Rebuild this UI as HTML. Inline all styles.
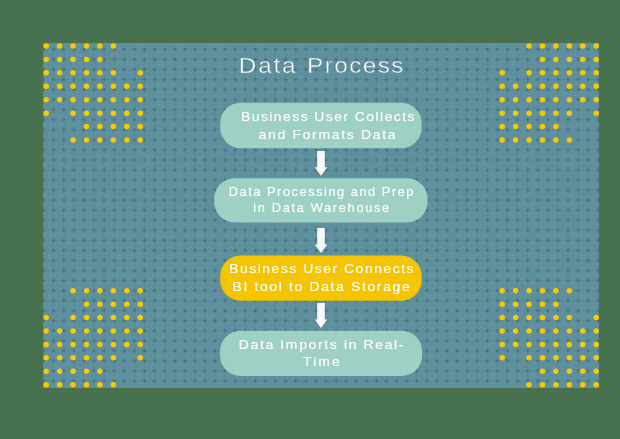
<!DOCTYPE html>
<html><head><meta charset="utf-8"><style>
html,body{margin:0;padding:0;background:#48724F;width:620px;height:439px;overflow:hidden}
svg{display:block}
text{font-family:"Liberation Sans",sans-serif;fill:#FFFFFF;stroke:#FFFFFF}
</style></head><body>
<svg width="620" height="439" viewBox="0 0 620 439">
<defs>
<pattern id="g" x="38.5575" y="44.4775" width="10.085" height="10.045" patternUnits="userSpaceOnUse">
<rect x="0" y="4.6" width="10.085" height="0.85" fill="#47717F" fill-opacity="0.16"/>
<rect x="4.62" y="0" width="0.85" height="10.045" fill="#47717F" fill-opacity="0.16"/>
<rect x="2.6" y="4.42" width="4.9" height="1.2" fill="#47717F" fill-opacity="0.32"/>
<rect x="4.44" y="2.6" width="1.2" height="4.9" fill="#47717F" fill-opacity="0.32"/>
<circle cx="5.0425" cy="5.0225" r="1.35" fill="#47717F"/>
</pattern>
<filter id="nf" filterUnits="userSpaceOnUse" x="0" y="0" width="620" height="439"><feOffset dx="0" dy="0"/></filter>
<filter id="bl" x="-5%" y="-5%" width="110%" height="110%"><feGaussianBlur stdDeviation="0.75"/></filter>
</defs>
<rect x="43" y="43" width="556" height="345" fill="#5F909E"/>
<rect x="43" y="43" width="556" height="345" fill="url(#g)" filter="url(#bl)"/>
<g fill="#F9CA00"><circle cx="46.20" cy="46.00" r="2.75"/><circle cx="59.63" cy="46.00" r="2.75"/><circle cx="73.06" cy="46.00" r="2.75"/><circle cx="86.49" cy="46.00" r="2.75"/><circle cx="99.92" cy="46.00" r="2.75"/><circle cx="113.35" cy="46.00" r="2.75"/><circle cx="46.20" cy="59.43" r="2.75"/><circle cx="59.63" cy="59.43" r="2.75"/><circle cx="73.06" cy="59.43" r="2.75"/><circle cx="86.49" cy="59.43" r="2.75"/><circle cx="99.92" cy="59.43" r="2.75"/><circle cx="46.20" cy="72.86" r="2.75"/><circle cx="59.63" cy="72.86" r="2.75"/><circle cx="73.06" cy="72.86" r="2.75"/><circle cx="86.49" cy="72.86" r="2.75"/><circle cx="99.92" cy="72.86" r="2.75"/><circle cx="113.35" cy="72.86" r="2.75"/><circle cx="140.21" cy="72.86" r="2.75"/><circle cx="46.20" cy="86.29" r="2.75"/><circle cx="59.63" cy="86.29" r="2.75"/><circle cx="73.06" cy="86.29" r="2.75"/><circle cx="86.49" cy="86.29" r="2.75"/><circle cx="99.92" cy="86.29" r="2.75"/><circle cx="113.35" cy="86.29" r="2.75"/><circle cx="126.78" cy="86.29" r="2.75"/><circle cx="140.21" cy="86.29" r="2.75"/><circle cx="46.20" cy="99.72" r="2.75"/><circle cx="59.63" cy="99.72" r="2.75"/><circle cx="73.06" cy="99.72" r="2.75"/><circle cx="86.49" cy="99.72" r="2.75"/><circle cx="99.92" cy="99.72" r="2.75"/><circle cx="113.35" cy="99.72" r="2.75"/><circle cx="126.78" cy="99.72" r="2.75"/><circle cx="140.21" cy="99.72" r="2.75"/><circle cx="46.20" cy="113.15" r="2.75"/><circle cx="73.06" cy="113.15" r="2.75"/><circle cx="86.49" cy="113.15" r="2.75"/><circle cx="99.92" cy="113.15" r="2.75"/><circle cx="113.35" cy="113.15" r="2.75"/><circle cx="126.78" cy="113.15" r="2.75"/><circle cx="140.21" cy="113.15" r="2.75"/><circle cx="86.49" cy="126.58" r="2.75"/><circle cx="99.92" cy="126.58" r="2.75"/><circle cx="113.35" cy="126.58" r="2.75"/><circle cx="126.78" cy="126.58" r="2.75"/><circle cx="140.21" cy="126.58" r="2.75"/><circle cx="73.06" cy="140.01" r="2.75"/><circle cx="86.49" cy="140.01" r="2.75"/><circle cx="99.92" cy="140.01" r="2.75"/><circle cx="113.35" cy="140.01" r="2.75"/><circle cx="126.78" cy="140.01" r="2.75"/><circle cx="140.21" cy="140.01" r="2.75"/><circle cx="529.06" cy="46.00" r="2.75"/><circle cx="542.49" cy="46.00" r="2.75"/><circle cx="555.92" cy="46.00" r="2.75"/><circle cx="569.35" cy="46.00" r="2.75"/><circle cx="582.78" cy="46.00" r="2.75"/><circle cx="596.21" cy="46.00" r="2.75"/><circle cx="542.49" cy="59.43" r="2.75"/><circle cx="555.92" cy="59.43" r="2.75"/><circle cx="569.35" cy="59.43" r="2.75"/><circle cx="582.78" cy="59.43" r="2.75"/><circle cx="596.21" cy="59.43" r="2.75"/><circle cx="502.20" cy="72.86" r="2.75"/><circle cx="529.06" cy="72.86" r="2.75"/><circle cx="542.49" cy="72.86" r="2.75"/><circle cx="555.92" cy="72.86" r="2.75"/><circle cx="569.35" cy="72.86" r="2.75"/><circle cx="582.78" cy="72.86" r="2.75"/><circle cx="596.21" cy="72.86" r="2.75"/><circle cx="502.20" cy="86.29" r="2.75"/><circle cx="515.63" cy="86.29" r="2.75"/><circle cx="529.06" cy="86.29" r="2.75"/><circle cx="542.49" cy="86.29" r="2.75"/><circle cx="555.92" cy="86.29" r="2.75"/><circle cx="569.35" cy="86.29" r="2.75"/><circle cx="582.78" cy="86.29" r="2.75"/><circle cx="596.21" cy="86.29" r="2.75"/><circle cx="502.20" cy="99.72" r="2.75"/><circle cx="515.63" cy="99.72" r="2.75"/><circle cx="529.06" cy="99.72" r="2.75"/><circle cx="542.49" cy="99.72" r="2.75"/><circle cx="555.92" cy="99.72" r="2.75"/><circle cx="569.35" cy="99.72" r="2.75"/><circle cx="582.78" cy="99.72" r="2.75"/><circle cx="596.21" cy="99.72" r="2.75"/><circle cx="502.20" cy="113.15" r="2.75"/><circle cx="515.63" cy="113.15" r="2.75"/><circle cx="529.06" cy="113.15" r="2.75"/><circle cx="542.49" cy="113.15" r="2.75"/><circle cx="555.92" cy="113.15" r="2.75"/><circle cx="569.35" cy="113.15" r="2.75"/><circle cx="596.21" cy="113.15" r="2.75"/><circle cx="502.20" cy="126.58" r="2.75"/><circle cx="515.63" cy="126.58" r="2.75"/><circle cx="529.06" cy="126.58" r="2.75"/><circle cx="542.49" cy="126.58" r="2.75"/><circle cx="555.92" cy="126.58" r="2.75"/><circle cx="502.20" cy="140.01" r="2.75"/><circle cx="515.63" cy="140.01" r="2.75"/><circle cx="529.06" cy="140.01" r="2.75"/><circle cx="542.49" cy="140.01" r="2.75"/><circle cx="555.92" cy="140.01" r="2.75"/><circle cx="569.35" cy="140.01" r="2.75"/><circle cx="73.06" cy="290.70" r="2.75"/><circle cx="86.49" cy="290.70" r="2.75"/><circle cx="99.92" cy="290.70" r="2.75"/><circle cx="113.35" cy="290.70" r="2.75"/><circle cx="126.78" cy="290.70" r="2.75"/><circle cx="140.21" cy="290.70" r="2.75"/><circle cx="86.49" cy="304.13" r="2.75"/><circle cx="99.92" cy="304.13" r="2.75"/><circle cx="113.35" cy="304.13" r="2.75"/><circle cx="126.78" cy="304.13" r="2.75"/><circle cx="140.21" cy="304.13" r="2.75"/><circle cx="46.20" cy="317.56" r="2.75"/><circle cx="73.06" cy="317.56" r="2.75"/><circle cx="86.49" cy="317.56" r="2.75"/><circle cx="99.92" cy="317.56" r="2.75"/><circle cx="113.35" cy="317.56" r="2.75"/><circle cx="126.78" cy="317.56" r="2.75"/><circle cx="140.21" cy="317.56" r="2.75"/><circle cx="46.20" cy="330.99" r="2.75"/><circle cx="59.63" cy="330.99" r="2.75"/><circle cx="73.06" cy="330.99" r="2.75"/><circle cx="86.49" cy="330.99" r="2.75"/><circle cx="99.92" cy="330.99" r="2.75"/><circle cx="113.35" cy="330.99" r="2.75"/><circle cx="126.78" cy="330.99" r="2.75"/><circle cx="140.21" cy="330.99" r="2.75"/><circle cx="46.20" cy="344.42" r="2.75"/><circle cx="59.63" cy="344.42" r="2.75"/><circle cx="73.06" cy="344.42" r="2.75"/><circle cx="86.49" cy="344.42" r="2.75"/><circle cx="99.92" cy="344.42" r="2.75"/><circle cx="113.35" cy="344.42" r="2.75"/><circle cx="126.78" cy="344.42" r="2.75"/><circle cx="140.21" cy="344.42" r="2.75"/><circle cx="46.20" cy="357.85" r="2.75"/><circle cx="59.63" cy="357.85" r="2.75"/><circle cx="73.06" cy="357.85" r="2.75"/><circle cx="86.49" cy="357.85" r="2.75"/><circle cx="99.92" cy="357.85" r="2.75"/><circle cx="113.35" cy="357.85" r="2.75"/><circle cx="140.21" cy="357.85" r="2.75"/><circle cx="46.20" cy="371.28" r="2.75"/><circle cx="59.63" cy="371.28" r="2.75"/><circle cx="73.06" cy="371.28" r="2.75"/><circle cx="86.49" cy="371.28" r="2.75"/><circle cx="99.92" cy="371.28" r="2.75"/><circle cx="46.20" cy="384.71" r="2.75"/><circle cx="59.63" cy="384.71" r="2.75"/><circle cx="73.06" cy="384.71" r="2.75"/><circle cx="86.49" cy="384.71" r="2.75"/><circle cx="99.92" cy="384.71" r="2.75"/><circle cx="113.35" cy="384.71" r="2.75"/><circle cx="502.20" cy="290.70" r="2.75"/><circle cx="515.63" cy="290.70" r="2.75"/><circle cx="529.06" cy="290.70" r="2.75"/><circle cx="542.49" cy="290.70" r="2.75"/><circle cx="555.92" cy="290.70" r="2.75"/><circle cx="569.35" cy="290.70" r="2.75"/><circle cx="502.20" cy="304.13" r="2.75"/><circle cx="515.63" cy="304.13" r="2.75"/><circle cx="529.06" cy="304.13" r="2.75"/><circle cx="542.49" cy="304.13" r="2.75"/><circle cx="555.92" cy="304.13" r="2.75"/><circle cx="502.20" cy="317.56" r="2.75"/><circle cx="515.63" cy="317.56" r="2.75"/><circle cx="529.06" cy="317.56" r="2.75"/><circle cx="542.49" cy="317.56" r="2.75"/><circle cx="555.92" cy="317.56" r="2.75"/><circle cx="569.35" cy="317.56" r="2.75"/><circle cx="596.21" cy="317.56" r="2.75"/><circle cx="502.20" cy="330.99" r="2.75"/><circle cx="515.63" cy="330.99" r="2.75"/><circle cx="529.06" cy="330.99" r="2.75"/><circle cx="542.49" cy="330.99" r="2.75"/><circle cx="555.92" cy="330.99" r="2.75"/><circle cx="569.35" cy="330.99" r="2.75"/><circle cx="582.78" cy="330.99" r="2.75"/><circle cx="596.21" cy="330.99" r="2.75"/><circle cx="502.20" cy="344.42" r="2.75"/><circle cx="515.63" cy="344.42" r="2.75"/><circle cx="529.06" cy="344.42" r="2.75"/><circle cx="542.49" cy="344.42" r="2.75"/><circle cx="555.92" cy="344.42" r="2.75"/><circle cx="569.35" cy="344.42" r="2.75"/><circle cx="582.78" cy="344.42" r="2.75"/><circle cx="596.21" cy="344.42" r="2.75"/><circle cx="502.20" cy="357.85" r="2.75"/><circle cx="529.06" cy="357.85" r="2.75"/><circle cx="542.49" cy="357.85" r="2.75"/><circle cx="555.92" cy="357.85" r="2.75"/><circle cx="569.35" cy="357.85" r="2.75"/><circle cx="582.78" cy="357.85" r="2.75"/><circle cx="596.21" cy="357.85" r="2.75"/><circle cx="542.49" cy="371.28" r="2.75"/><circle cx="555.92" cy="371.28" r="2.75"/><circle cx="569.35" cy="371.28" r="2.75"/><circle cx="582.78" cy="371.28" r="2.75"/><circle cx="596.21" cy="371.28" r="2.75"/><circle cx="529.06" cy="384.71" r="2.75"/><circle cx="542.49" cy="384.71" r="2.75"/><circle cx="555.92" cy="384.71" r="2.75"/><circle cx="569.35" cy="384.71" r="2.75"/><circle cx="582.78" cy="384.71" r="2.75"/><circle cx="596.21" cy="384.71" r="2.75"/></g>
<rect x="220.2" y="102.7" width="201.50" height="45.50" rx="20.5" ry="20.5" fill="#9ED0C3"/><rect x="214.2" y="178.2" width="213.40" height="44.20" rx="20.5" ry="20.5" fill="#9ED0C3"/><rect x="220.2" y="255.5" width="201.50" height="45.20" rx="20.5" ry="20.5" fill="#F4C500"/><rect x="220" y="330.7" width="202.10" height="45.20" rx="20.5" ry="20.5" fill="#9ED0C3"/>
<g fill="#F8F8F8"><path d="M317.2 150.9 H324.8 V167.30 H327.3 L321 175.80 L314.7 167.30 H317.2 Z"/><path d="M317.2 228 H324.8 V244.40 H327.3 L321 252.90 L314.7 244.40 H317.2 Z"/><path d="M317.2 303 H324.8 V319.40 H327.3 L321 327.90 L314.7 319.40 H317.2 Z"/></g>
<g filter="url(#nf)"><text transform="translate(238.8 0) scale(1.07 1)" x="0" y="72.7" font-size="22.7" textLength="53.084" lengthAdjust="spacing" style="stroke:#5F909E;stroke-width:0.45px">Data</text><text transform="translate(307.0 0) scale(1.07 1)" x="0" y="72.7" font-size="22.7" textLength="90.14" lengthAdjust="spacing" style="stroke:#5F909E;stroke-width:0.45px">Process</text><text transform="translate(241.0 0) scale(1.04 1)" x="0" y="121.5" font-size="13.4" textLength="166.827" lengthAdjust="spacing" style="stroke-width:0.15px">Business User Collects</text><text transform="translate(258.5 0) scale(1.04 1)" x="0" y="138.9" font-size="13.4" textLength="131.827" lengthAdjust="spacing" style="stroke-width:0.15px">and Formats Data</text><text transform="translate(228.8 0) scale(1.04 1)" x="0" y="196.0" font-size="12.3" textLength="177.596" lengthAdjust="spacing" style="stroke-width:0.15px">Data Processing and Prep</text><text transform="translate(253.25 0) scale(1.04 1)" x="0" y="212.4" font-size="12.3" textLength="130.721" lengthAdjust="spacing" style="stroke-width:0.15px">in Data Warehouse</text><text transform="translate(229.2 0) scale(1.04 1)" x="0" y="273.5" font-size="13.4" textLength="177.212" lengthAdjust="spacing" style="stroke-width:0.15px">Business User Connects</text><text transform="translate(232.5 0) scale(1.04 1)" x="0" y="291.0" font-size="13.4" textLength="170.385" lengthAdjust="spacing" style="stroke-width:0.15px">BI tool to Data Storage</text><text transform="translate(238.8 0) scale(1.04 1)" x="0" y="348.9" font-size="13.4" textLength="158.365" lengthAdjust="spacing" style="stroke-width:0.15px">Data Imports in Real-</text><text transform="translate(303.05 0) scale(1.04 1)" x="0" y="366.2" font-size="13.4" textLength="35.337" lengthAdjust="spacing" style="stroke-width:0.15px">Time</text></g>
</svg>
</body></html>
